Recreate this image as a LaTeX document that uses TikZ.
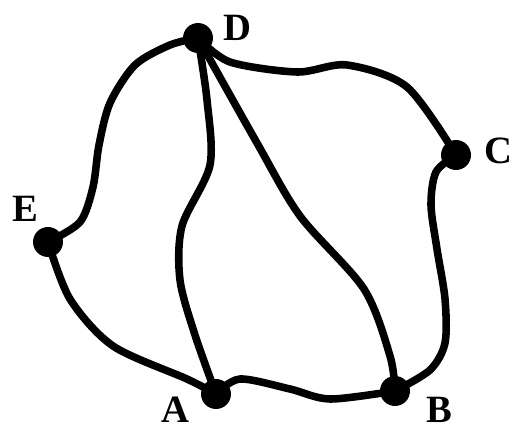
\documentclass[tikz,border=0pt]{standalone}
\usepackage{fontspec}
\setmainfont{Liberation Serif}
\usepackage{tikz}

\begin{document}
\begin{tikzpicture}[x=0.02cm,y=-0.02cm,
    vertex/.style={circle,fill=black,inner sep=0pt,minimum size=0.6cm},
    lbl/.style={inner sep=0pt,font=\bfseries\fontsize{22}{24}\selectfont},
    edge/.style={line width=4.3pt,line cap=round,line join=round}]
  \useasboundingbox (0,0) rectangle (514,432);
  % vertices
  \node[vertex] (D) at (198,38) {};
  \node[vertex] (C) at (456,155) {};
  \node[vertex] (E) at (48,242) {};
  \node[vertex] (A) at (216,394) {};
  \node[vertex] (B) at (395,391) {};
  \node[lbl] (lD) at (237,28) {D};
  \node[lbl] (lC) at (498,151) {C};
  \node[lbl] (lE) at (25,209) {E};
  \node[lbl] (lA) at (175,410) {A};
  \node[lbl] (lB) at (439,410) {B};
  % edges
  \draw[edge] plot[smooth] coordinates {(E) (80,222) (93,187) (99,145) (110,103) (135,65) (170,45) (D)};
  \draw[edge] plot[smooth] coordinates {(D) (207,100) (210,165) (182,226) (180,280) (195,335) (A)};
  \draw[edge] plot[smooth] coordinates {(D) (257,143) (300,216) (364,289) (390,356) (B)};
  \draw[edge] plot[smooth] coordinates {(D) (230,62) (297,72) (347,65) (407,87) (C)};
  \draw[edge] plot[smooth] coordinates {(C) (436,172) (431,205) (437,249) (445,299) (445,343) (430,370) (B)};
  \draw[edge] plot[smooth] coordinates {(A) (240,379) (290,389) (330,399) (B)};
  \draw[edge] plot[smooth] coordinates {(E) (70,299) (113,346) (187,379) (A)};
\end{tikzpicture}
\end{document}
